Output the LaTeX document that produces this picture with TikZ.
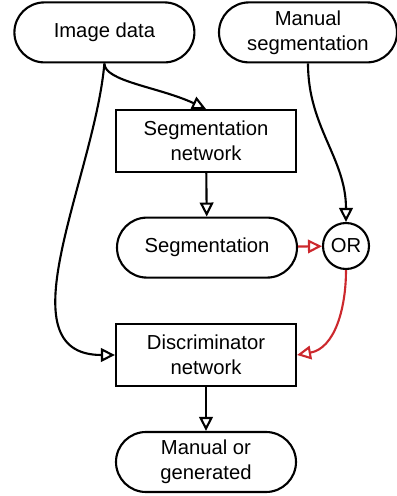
\documentclass[tikz,border=0pt]{standalone}
\usepackage{fontspec}
\setmainfont{Liberation Sans}
\usepackage{xcolor}
\usepackage{tikz}
\usetikzlibrary{arrows.meta,positioning,calc}
\definecolor{orred}{RGB}{204,40,45}

\begin{document}
\begin{tikzpicture}[
  font=\fontsize{14.4}{17.7}\selectfont,
  >={Triangle[open, length=3.5mm, width=3.4mm]},
  line width=1.5pt,
  every node/.style={align=center},
  base/.style   = {draw, text centered, inner sep=2pt, text=black},
  pill/.style   = {base, rounded corners=0.75cm, minimum width=4.5cm, minimum height=1.5cm},
  boxnd/.style  = {base, minimum width=4.5cm, minimum height=1.55cm},
  ornd/.style   = {base, circle, minimum size=1.15cm, inner sep=0pt},
  redln/.style  = {draw=orred}
]
\useasboundingbox (0,0) rectangle (9.925,12.4);

\node[pill] (img) at (2.61, 11.59) {Image data};
\node[pill, minimum width=4.45cm] (manseg) at (7.70, 11.59) {Manual\\segmentation};
\node[boxnd] (segnet) at (5.15, 8.875) {Segmentation\\network};
\node[pill] (seg) at (5.175, 6.21) {Segmentation};
\node[ornd] (or) at (8.65, 6.25) {OR};
\node[boxnd] (disc) at (5.15, 3.525) {Discriminator\\network};
\node[pill] (out) at (5.15, 0.85) {Manual or\\generated};

\draw[->] (img.south) .. controls +(0,-0.45) and +(155:1.3) .. (segnet.north);
\draw[->] (img.south) to[out=-95, in=180] (disc.west);
\draw[->] (manseg.south) to[out=-90, in=90] (or.north);
\draw[->] (segnet) -- (seg);
\draw[->, redln] (seg) -- (or);
\draw[->, redln] (or.south) to[out=-90, in=10] (disc.east);
\draw[->] (disc) -- (out);
\end{tikzpicture}
\end{document}
